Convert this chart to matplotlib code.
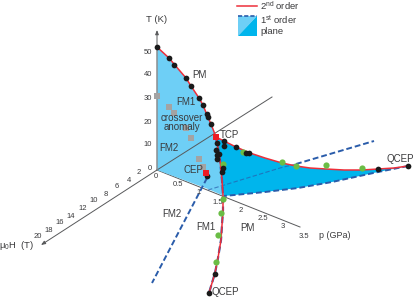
#!/usr/bin/env python3
# Phase diagram drawn as a flat projection, everything in picture coordinates
import matplotlib
matplotlib.use("Agg")
import matplotlib.pyplot as plt
from matplotlib.patches import Polygon

plt.rcParams["font.family"] = ["Liberation Sans", "DejaVu Sans"]
plt.rcParams["mathtext.fontset"] = "custom"
plt.rcParams["mathtext.rm"] = "Liberation Sans"

COL_LIGHT = "#6ecff6"
COL_DEEP = "#00b5ec"
COL_RED = "#ed2f3a"
COL_DASH = "#2a5caa"
COL_GREEN = "#6abd45"
COL_GRAY = "#a3a3a3"
COL_AXIS = "#58595b"
COL_TEXT = "#3a3a3c"

# second order line, PM/FM1 boundary down to the TCP
upper_x = [157, 169, 174, 186, 191, 199, 203, 207, 211, 216]
upper_y = [47, 58, 64, 78, 86, 98, 105, 115, 124, 137]
# wing edge, TCP to the right hand QCEP
wing_x = [216, 224, 236, 250, 265, 282, 296, 310, 326, 344, 362, 378, 394, 408]
wing_y = [137, 141, 147, 153, 158, 163, 166, 168, 169, 170, 170, 169, 168, 166]
# wing bottom edge, dashed
wing_low_x = [408, 378, 332, 298, 265, 224]
wing_low_y = [166, 172, 182, 188, 192, 196]
# wing left edge
wing_left_x = [216, 220, 222, 224]
wing_left_y = [137, 160, 180, 196]
# base of the plane
base_x = [208, 157]
base_y = [189, 170]
# lower line, TCP to the bottom QCEP
lower_x = [216, 220, 222, 223, 223, 221, 218, 215, 209]
lower_y = [137, 160, 180, 195, 210, 240, 258, 273, 293]

dots_x = [157, 169, 174, 186, 191, 199, 203, 207, 208, 211, 217, 224, 224, 216, 217, 219,
          217, 223, 222, 236, 246, 249, 207, 378, 408, 215, 209]
dots_y = [47, 58, 65, 78, 86, 98, 105, 114, 117, 124, 143, 141, 146, 150, 155, 154,
          159, 168, 172, 147, 153, 153, 176, 169, 166, 274, 293]
green_x = [243, 223, 223, 221, 218, 216, 282, 296, 326, 362]
green_y = [152, 164, 199, 213, 235, 262, 162, 166, 165, 168]
gray_x = [157, 169, 174, 186, 191, 199, 203]
gray_y = [96, 107, 113, 128, 138, 159, 167]
cep_x = [206, 216]
cep_y = [173, 137]

t_ticks = ["50", "40", "30", "20", "10"]
t_tick_y = [52, 75, 98, 122, 145]
h_ticks = ["0", "2", "4", "6", "8", "10", "12", "14", "16", "18", "20"]
h_tick_x = [150, 139, 129, 117, 106, 94, 83, 71, 60, 49, 38]
h_tick_y = [168, 173, 180, 187, 195, 201, 209, 216, 223, 230, 237]
p_ticks = ["0", "0.5", "1", "1.5", "2", "2.5", "3", "3.5"]
p_tick_x = [156, 178, 199, 218, 241, 263, 283, 304]
p_tick_y = [177, 185, 193, 202, 211, 219, 227, 236]

fig = plt.figure(figsize=(4.15, 2.99), dpi=100)
ax = fig.add_axes([0, 0, 1, 1])
ax.set_xlim(0, 415)
ax.set_ylim(299, 0)
ax.axis("off")

# planes
plane = list(zip(upper_x, upper_y)) + list(zip(wing_left_x, wing_left_y)) + list(zip(base_x, base_y))
ax.add_patch(Polygon(plane, fc=COL_LIGHT, ec="none", zorder=1))
wing = list(zip(wing_x, wing_y)) + list(zip(wing_low_x, wing_low_y)) + list(zip(wing_left_x[::-1], wing_left_y[::-1]))
ax.add_patch(Polygon(wing, fc=COL_DEEP, ec="none", zorder=1))

# axes
ax.plot([157, 272], [170, 97], color=COL_AXIS, lw=0.7, zorder=2)
ax.plot([157, 300], [170, 227], color=COL_AXIS, lw=0.7, zorder=0.5)
ax.plot([157, 157], [170, 47], color="#8c8f91", lw=1.1, zorder=2)
ax.annotate("", xy=(157, 30), xytext=(157, 47), zorder=2,
            arrowprops=dict(arrowstyle="-|>,head_width=0.1,head_length=0.25", color=COL_AXIS, lw=0.7,
                            shrinkA=0, shrinkB=0))
ax.annotate("", xy=(41, 245), xytext=(157, 170), zorder=2,
            arrowprops=dict(arrowstyle="-|>,head_width=0.1,head_length=0.25", color=COL_AXIS, lw=0.7,
                            shrinkA=0, shrinkB=0))

# dashed lines
ax.plot([207, 152], [178, 283], color=COL_DASH, lw=1.4, dashes=(3, 1.5), zorder=3)
ax.plot([208, 280, 296], [190, 168, 164], color=COL_DASH, lw=0.8, dashes=(4, 2), alpha=0.7, zorder=3)
ax.plot([296, 374], [164, 141], color=COL_DASH, lw=1.4, dashes=(3, 1.5), zorder=3)
ax.plot(wing_low_x, wing_low_y, color=COL_DASH, lw=1.4, dashes=(3, 1.5), zorder=3)
ax.plot(lower_x, lower_y, color=COL_DASH, lw=1.6, dashes=(3, 1.5), zorder=3)

# second order lines
ax.plot(upper_x, upper_y, color=COL_RED, lw=1.1, zorder=4)
ax.plot(wing_x, wing_y, color=COL_RED, lw=1.1, zorder=4)
ax.plot(lower_x, lower_y, color=COL_RED, lw=1.1, zorder=4)

# points
ax.scatter(gray_x, gray_y, s=14, marker="s", color=COL_GRAY, lw=0, zorder=5)
ax.scatter(green_x, green_y, s=20, color=COL_GREEN, lw=0, zorder=5)
ax.scatter(dots_x, dots_y, s=17, color="#1a1a1a", lw=0, zorder=6)
ax.scatter(cep_x, cep_y, s=20, marker="s", color="#ed1c24", lw=0, zorder=7)

# tick labels
for s, y in zip(t_ticks, t_tick_y):
    ax.text(152, y, s, fontsize=5.5, ha="right", va="center", color=COL_TEXT)
for s, x, y in zip(h_ticks, h_tick_x, h_tick_y):
    ax.text(x, y, s, fontsize=5.5, ha="center", va="center", color=COL_TEXT)
for s, x, y in zip(p_ticks, p_tick_x, p_tick_y):
    ax.text(x, y, s, fontsize=5.5, ha="center", va="center", color=COL_TEXT)

# labels
ax.text(157, 20, "T (K)", fontsize=6.8, ha="center", va="center", color=COL_TEXT)
ax.text(17, 245, r"$\mathrm{\mu_0}$H  (T)", fontsize=6.8, ha="center", va="center", color=COL_TEXT)
ax.text(335, 236, "p (GPa)", fontsize=6.5, ha="center", va="center", color=COL_TEXT)
notes = [("PM", 199, 75), ("FM1", 186, 102), ("crossover", 182, 118), ("anomaly", 182, 126.5),
         ("FM2", 169, 148), ("CEP", 193, 170), ("TCP", 229, 135), ("QCEP", 400, 159),
         ("QCEP", 225, 292), ("FM2", 172, 214), ("FM1", 206, 227), ("PM", 247, 228)]
for s, x, y in notes:
    ax.text(x, y, s, fontsize=7, ha="center", va="center", color=COL_TEXT, zorder=8)

# legend
ax.plot([237, 257], [6, 6], color=COL_RED, lw=1.1)
ax.text(260, 6, r"2$^{\mathrm{nd}}$ order", fontsize=6.8, va="center", color=COL_TEXT)
ax.add_patch(Polygon([(238, 16), (257, 16), (238, 36)], fc=COL_LIGHT, ec="none"))
ax.add_patch(Polygon([(257, 16), (257, 36), (238, 36)], fc=COL_DEEP, ec="none"))
ax.plot([238, 257], [16, 16], color=COL_DASH, lw=1.2, dashes=(2.5, 1.2))
ax.text(260, 20, r"1$^{\mathrm{st}}$ order", fontsize=6.8, va="center", color=COL_TEXT)
ax.text(260, 31, "plane", fontsize=6.8, va="center", color=COL_TEXT)

fig.savefig("out.png", dpi=100)
